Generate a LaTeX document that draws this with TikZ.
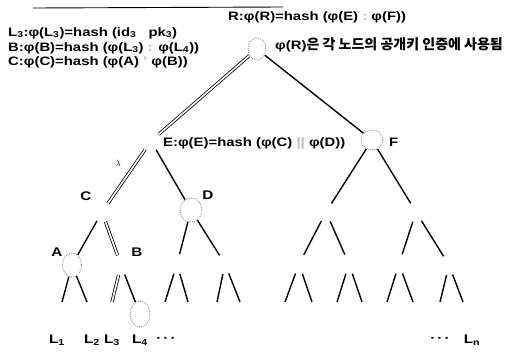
\documentclass[tikz,border=0pt]{standalone}
\usepackage{fontspec}
\setmainfont{Liberation Sans}[FakeStretch=1.22]
\newfontfamily\kofont{Noto Sans CJK KR}
\usetikzlibrary{shapes.geometric}
\begin{document}
\begin{tikzpicture}[x=1pt,y=-1pt,
  lbl/.style={font=\bfseries\fontsize{12.2}{14}\selectfont, inner sep=0pt, anchor=west},
  leaf/.style={font=\bfseries\fontsize{12.5}{14}\selectfont, inner sep=0pt},
  gap/.style={circle, inner sep=0pt, minimum size=20pt},
  hn/.style={ellipse, draw=gray!85, densely dotted, line width=0.9pt, fill=white, inner sep=0pt},
  edge/.style={line width=1.4pt},
  dbl/.style={line width=0.8pt, double=white, double distance=1.6pt},
  faint/.style={text=gray!55}
]
\useasboundingbox (0,0) rectangle (518,351);

% top rule
\coordinate (rule1) at (33,8);
\coordinate (rule2) at (283,7);
\draw[line width=0.9pt] (rule1) -- (rule2);

% tree nodes
\node[hn, minimum width=18pt, minimum height=22pt] (R) at (257,49) {};
\node[gap] (E) at (151,141) {};
\node[hn, minimum width=22pt, minimum height=20pt] (F) at (372,140) {};
\node[gap] (C) at (102,212) {};
\node[hn, minimum width=22pt, minimum height=24pt] (D) at (191,210) {};
\node[hn, minimum width=19pt, minimum height=24pt] (A) at (72,265) {};
\node[gap] (B) at (121,265) {};
\node[hn, minimum width=20pt, minimum height=26pt] (L4) at (140,314) {};
\node[gap] (Dl) at (177,264) {};
\node[gap] (Dr) at (225,264) {};
\node[gap] (Fl) at (326,212) {};
\node[gap] (Fr) at (416,212) {};
\node[gap] (Fll) at (299,264) {};
\node[gap] (Flr) at (349,264) {};
\node[gap] (Frl) at (399,264) {};
\node[gap] (Frr) at (449,265) {};

% leaf ends
\coordinate (a1) at (62,302);
\coordinate (a2) at (87,302);
\coordinate (b1) at (112,302);
\coordinate (dl1) at (165,302);
\coordinate (dl2) at (188,302);
\coordinate (dr1) at (217,302);
\coordinate (dr2) at (240,302);
\coordinate (fll1) at (285,302);
\coordinate (fll2) at (312,302);
\coordinate (flr1) at (337,302);
\coordinate (flr2) at (362,302);
\coordinate (frl1) at (387,302);
\coordinate (frl2) at (413,302);
\coordinate (frr1) at (440,302);
\coordinate (frr2) at (463,302);

% edges
\draw[dbl] (R) -- (E);
\draw[edge] (R) -- (F);
\draw[dbl] (E) -- (C);
\draw[edge] (E) -- (D);
\draw[edge] (C) -- (A);
\draw[dbl] (C) -- (B);
\draw[edge] (A) -- (a1);
\draw[edge] (A) -- (a2);
\draw[dbl] (B) -- (b1);
\draw[edge] (B) -- (L4);
\draw[edge] (D) -- (Dl);
\draw[edge] (D) -- (Dr);
\draw[edge] (Dl) -- (dl1);
\draw[edge] (Dl) -- (dl2);
\draw[edge] (Dr) -- (dr1);
\draw[edge] (Dr) -- (dr2);
\draw[edge] (F) -- (Fl);
\draw[edge] (F) -- (Fr);
\draw[edge] (Fl) -- (Fll);
\draw[edge] (Fl) -- (Flr);
\draw[edge] (Fr) -- (Frl);
\draw[edge] (Fr) -- (Frr);
\draw[edge] (Fll) -- (fll1);
\draw[edge] (Fll) -- (fll2);
\draw[edge] (Flr) -- (flr1);
\draw[edge] (Flr) -- (flr2);
\draw[edge] (Frl) -- (frl1);
\draw[edge] (Frl) -- (frl2);
\draw[edge] (Frr) -- (frr1);
\draw[edge] (Frr) -- (frr2);

% formula labels
\node[lbl] (tL3) at (8,33) {L\textsubscript{3}:φ(L\textsubscript{3})=hash (id\textsubscript{3}\hspace{12pt}pk\textsubscript{3})};
\node[lbl] (tB) at (8,48) {B:φ(B)=hash (φ(L\textsubscript{3}) {\color{gray!55}:} φ(L\textsubscript{4}))};
\node[lbl] (tC) at (8,62) {C:φ(C)=hash (φ(A) {\color{gray!55}'} φ(B))};
\node[lbl] (tR) at (228,17) {R:φ(R)=hash (φ(E) {\color{gray!55}:} φ(F))};
\node[lbl] (tNote) at (275,45) {φ(R){\kofont\fontsize{14}{16}\selectfont 은 각 노드의 공개키 인증에 사용됨}};
\node[lbl] (tE) at (163,143) {E:φ(E)=hash (φ(C) {\color{gray!55}||} φ(D))};
\node[lbl] (tF) at (389,142) {F};

% node letters
\node[leaf] (lC) at (86,196) {C};
\node[leaf] (lD) at (208,195) {D};
\node[leaf] (lA) at (57,252) {A};
\node[leaf] (lB) at (137,252) {B};
\node[inner sep=0pt, font=\fontsize{9}{10}\selectfont] (lam) at (118,163) {$\lambda$};

% leaf labels
\node[leaf] (n1) at (57,340) {L\textsubscript{1}};
\node[leaf] (n2) at (92,340) {L\textsubscript{2}};
\node[leaf] (n3) at (112,340) {L\textsubscript{3}};
\node[leaf] (n4) at (140,340) {L\textsubscript{4}};
\node[leaf] (d1) at (166,340) {·\,·\,·};
\node[leaf] (d2) at (440,340) {·\,·\,·};
\node[leaf] (nn) at (472,340) {L\textsubscript{n}};
\end{tikzpicture}
\end{document}
